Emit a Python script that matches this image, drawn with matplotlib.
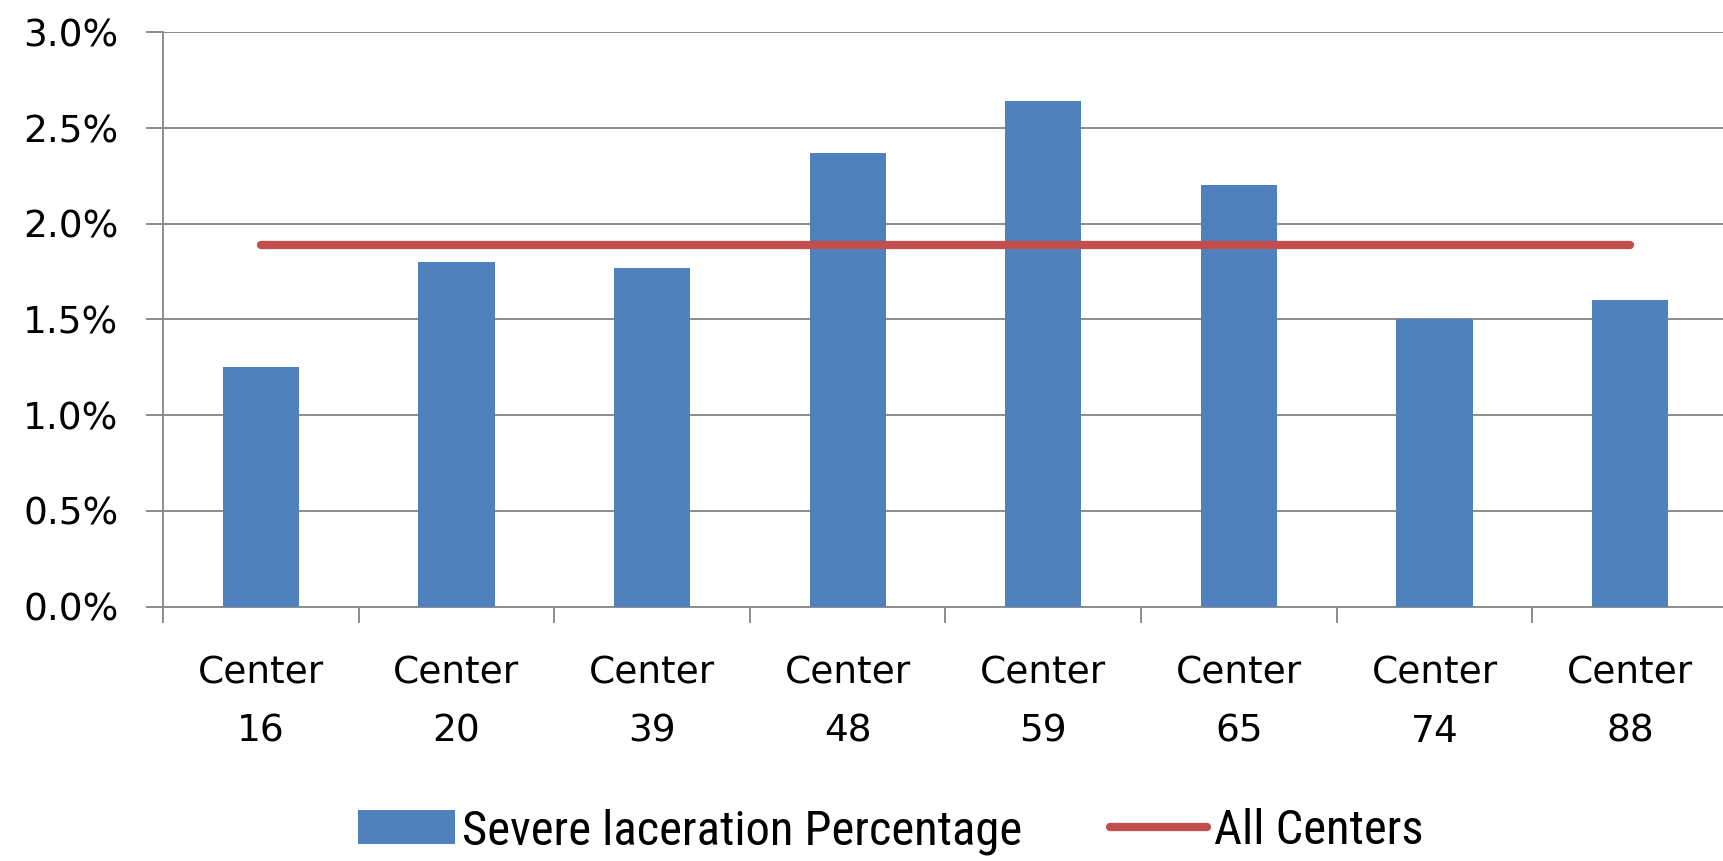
import matplotlib
matplotlib.use("Agg")
import matplotlib.pyplot as plt
from matplotlib import font_manager
from matplotlib.ticker import FuncFormatter, FixedLocator

# severe laceration rate per center, in percent
centers = ["Center\n16", "Center\n20", "Center\n39", "Center\n48",
           "Center\n59", "Center\n65", "Center\n74", "Center\n88"]
severe_pct = [1.25, 1.80, 1.77, 2.37, 2.64, 2.20, 1.50, 1.60]
all_centers_pct = [1.89] * len(centers)

BLUE = "#4F81BD"
RED = "#C0504D"
GRID = "#8C8C8C"

# narrow face for the legend if one is around
names = {f.name for f in font_manager.fontManager.ttflist}
narrow = [n for n in ("Liberation Sans Narrow", "Roboto Condensed", "Open Sans Condensed")
          if n in names]

fig = plt.figure(figsize=(17.23, 8.61), dpi=100)
ax = fig.add_axes([0.0946, 0.2954, 0.9083, 0.6671])

x = list(range(len(centers)))
bars = ax.bar(x, severe_pct, width=0.39, color=BLUE, zorder=3,
              label="Severe laceration Percentage")
line, = ax.plot(x, all_centers_pct, color=RED, lw=6, solid_capstyle="round",
                zorder=4, label="All Centers")

ax.set_xlim(-0.5, len(centers) - 0.5)
ax.set_ylim(0, 3.0)
ax.set_yticks([0, 0.5, 1.0, 1.5, 2.0, 2.5, 3.0])
ax.yaxis.set_major_formatter(FuncFormatter(lambda v, _: f"{v:.1f}%"))
ax.yaxis.grid(True, color=GRID, lw=1.4, zorder=0)
ax.tick_params(axis="y", length=12, width=1.4, color=GRID, pad=20,
               labelsize=27)

# labels sit at the category centres, tick marks at the boundaries
ax.set_xticks(x)
ax.set_xticklabels(centers, fontsize=27, linespacing=1.8)
ax.tick_params(axis="x", which="major", length=0, pad=35)
ax.xaxis.set_minor_locator(FixedLocator([i - 0.5 for i in range(len(centers) + 1)]))
ax.tick_params(axis="x", which="minor", length=11.5, width=1.4, color=GRID)

for side in ("top", "right"):
    ax.spines[side].set_visible(False)
for side in ("left", "bottom"):
    ax.spines[side].set_color(GRID)
    ax.spines[side].set_linewidth(1.4)

if narrow:
    legend_font = {"family": [narrow[0], "DejaVu Sans"], "size": 35}
else:
    legend_font = {"family": ["DejaVu Sans"], "stretch": "condensed", "size": 29}
fig.legend(handles=[bars, line], loc="center", bbox_to_anchor=(0.517, 0.034),
           ncol=2, frameon=False, prop=legend_font, handlelength=2.0,
           handleheight=0.7, handletextpad=0.15, columnspacing=1.8,
           borderaxespad=0)

fig.savefig("out.png", dpi=100)
